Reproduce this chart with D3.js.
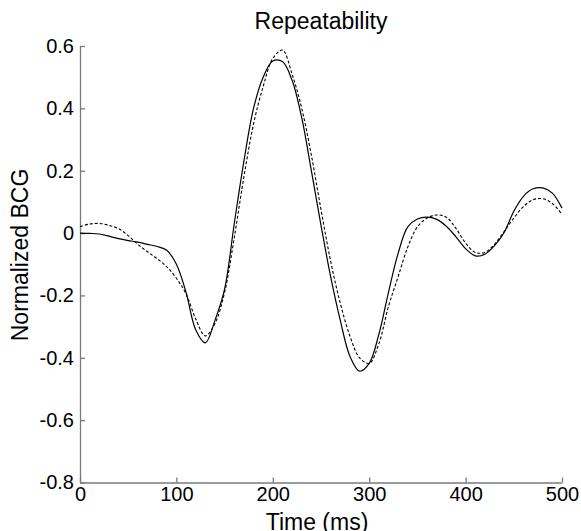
<!DOCTYPE html>
<html>
<head>
<meta charset="utf-8">
<script src="https://cdn.jsdelivr.net/npm/d3@7"></script>
<style>
  body { margin: 0; background: #fff; }
  text { font-family: "Liberation Sans", Arial, sans-serif; fill: #000; }
</style>
</head>
<body>
<div id="chart"></div>
<script>
// Data
var timeMs = [0, 10, 20, 30, 40, 50, 60, 70, 80, 90,
    100, 110, 120, 130, 140, 150, 160, 170, 180, 190,
    200, 210, 220, 230, 240, 250, 260, 270, 280, 290,
    300, 310, 320, 330, 340, 350, 360, 370, 380, 390,
    400, 410, 420, 430, 440, 450, 460, 470, 480, 490, 500];

// solid trace
var trialA = [0, -0.001, -0.003, -0.01, -0.018, -0.024, -0.029, -0.036, -0.043, -0.055,
    -0.1, -0.19, -0.31, -0.352, -0.28, -0.18, 0.03, 0.23, 0.4, 0.5,
    0.552, 0.55, 0.49, 0.37, 0.2, 0.025, -0.14, -0.28, -0.395, -0.443,
    -0.418, -0.325, -0.19, -0.065, 0.02, 0.045, 0.051, 0.044, 0.022, -0.012,
    -0.05, -0.073, -0.068, -0.04, 0.002, 0.07, 0.118, 0.142, 0.145, 0.128, 0.08];

// dashed trace
var trialB = [0.021, 0.029, 0.031, 0.025, 0.014, -0.008, -0.036, -0.06, -0.082, -0.108,
    -0.145, -0.195, -0.275, -0.33, -0.29, -0.19, -0.015, 0.18, 0.35, 0.47,
    0.56, 0.587, 0.51, 0.4, 0.25, 0.075, -0.09, -0.225, -0.33, -0.4,
    -0.418, -0.355, -0.235, -0.14, -0.045, 0.02, 0.048, 0.058, 0.051, 0.015,
    -0.032, -0.062, -0.062, -0.036, 0.005, 0.048, 0.085, 0.107, 0.11, 0.095, 0.06];

var xTicks = [0, 100, 200, 300, 400, 500];
var yTicks = [-0.8, -0.6, -0.4, -0.2, 0, 0.2, 0.4, 0.6];

// Width and height
var chart_width  = 581;
var chart_height = 531;
var plotLeft = 80, plotRight = 562, plotTop = 46, plotBottom = 482.5;

var x = d3.scaleLinear().domain([0, 500]).range([plotLeft, plotRight]);
var y = d3.scaleLinear().domain([-0.8, 0.6]).range([plotBottom, plotTop]);

var svg = d3.select("#chart")
    .append("svg")
    .attr("width", chart_width)
    .attr("height", chart_height);

// Axes
var xAxis = svg.append("g")
    .attr("transform", "translate(0," + plotBottom + ")")
    .call(d3.axisBottom(x).tickValues(xTicks).tickFormat(d3.format("d"))
        .tickSizeInner(-5).tickSizeOuter(0).tickPadding(4));

// plain hyphen for negatives, like the original figure
var yFmt = function(d) { return d === 0 ? "0" : d.toFixed(1); };
var yAxis = svg.append("g")
    .attr("transform", "translate(" + plotLeft + ",0)")
    .call(d3.axisLeft(y).tickValues(yTicks).tickFormat(yFmt)
        .tickSizeInner(-5).tickSizeOuter(0).tickPadding(6));

[xAxis, yAxis].forEach(function(g) {
    g.select(".domain").attr("stroke", "#7a7a7a").attr("stroke-width", 1.3);
    g.selectAll(".tick line").attr("stroke", "#7a7a7a").attr("stroke-width", 1.3);
    g.selectAll(".tick text")
        .style("font-family", "'Liberation Sans', Arial, sans-serif")
        .style("font-size", "20px")
        .attr("fill", "#000");
});

// Lines
var line = d3.line()
    .x(function(d, i) { return x(timeMs[i]); })
    .y(function(d) { return y(d); })
    .curve(d3.curveCatmullRom.alpha(0.5));

svg.append("path")
    .datum(trialB)
    .attr("d", line)
    .attr("fill", "none")
    .attr("stroke", "#000")
    .attr("stroke-width", 1.1)
    .attr("stroke-dasharray", "3,2");

svg.append("path")
    .datum(trialA)
    .attr("d", line)
    .attr("fill", "none")
    .attr("stroke", "#000")
    .attr("stroke-width", 1.2);

// Labels
svg.append("text")
    .attr("x", (plotLeft + plotRight) / 2)
    .attr("y", 29)
    .attr("text-anchor", "middle")
    .style("font-size", "23px")
    .text("Repeatability");

svg.append("text")
    .attr("x", 317)
    .attr("y", 530)
    .attr("text-anchor", "middle")
    .style("font-size", "23px")
    .text("Time (ms)");

svg.append("text")
    .attr("transform", "translate(28,255) rotate(-90)")
    .attr("text-anchor", "middle")
    .style("font-size", "23px")
    .text("Normalized BCG");
</script>
</body>
</html>
